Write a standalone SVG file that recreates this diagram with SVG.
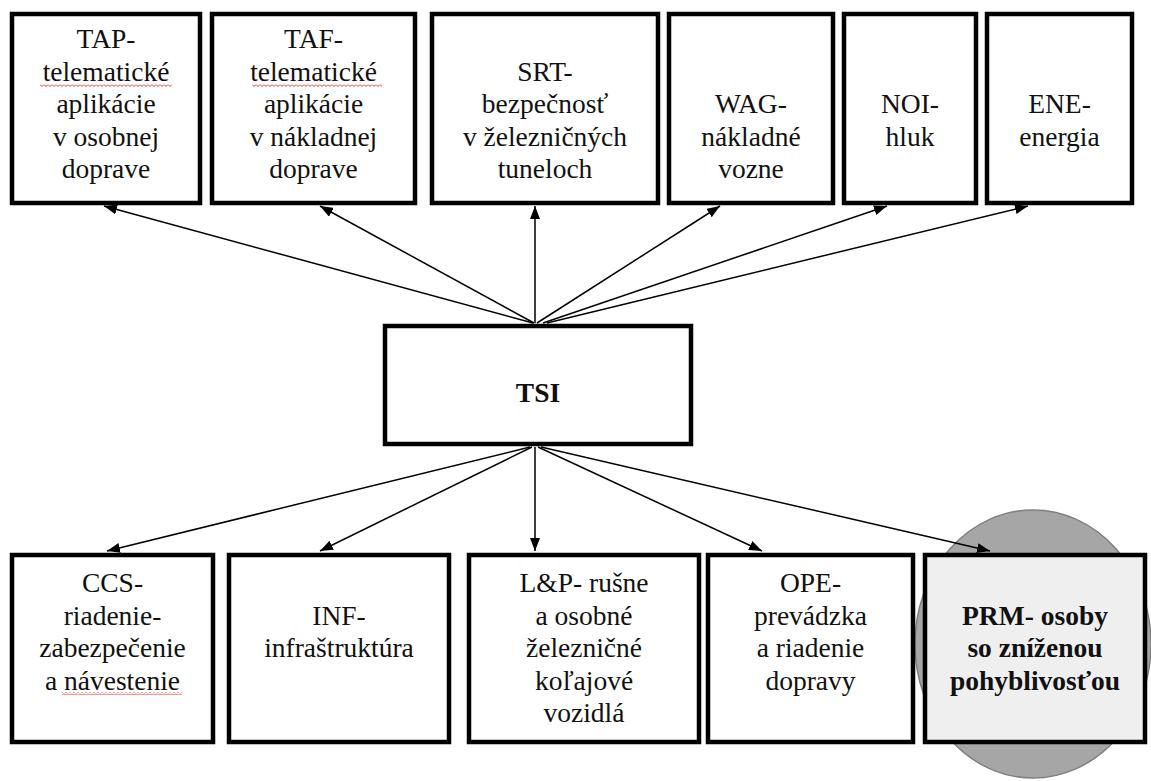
<svg xmlns="http://www.w3.org/2000/svg" width="1151" height="781" viewBox="0 0 1151 781">
<style>
.box{fill:#ffffff;stroke:#000000;stroke-width:4.5}
.prm{fill:#efefef;stroke:#000000;stroke-width:4.5}
.t{font-family:'Liberation Serif','DejaVu Serif',serif;font-size:27.5px;fill:#111111;text-anchor:middle}
.b{font-weight:bold}
.conn line{stroke:#000000;stroke-width:1.5;marker-end:url(#arr)}
.sq{fill:url(#wave)}
</style>
<defs>
<marker id="arr" markerUnits="userSpaceOnUse" markerWidth="14" markerHeight="10" refX="13" refY="5" orient="auto">
<path d="M0,0 L13,5 L0,10 z" fill="#000000"/>
</marker>
<pattern id="wave" x="0" y="0" width="4" height="3" patternUnits="userSpaceOnUse">
<path d="M0,0.5 L2,2.5 L4,0.5" fill="none" stroke="#e02020" stroke-width="0.9"/>
</pattern>
</defs>
<rect width="1151" height="781" fill="#ffffff"/>
<ellipse id="circle" cx="1033" cy="644" rx="118" ry="134" fill="#a6a6a6" stroke="#808080" stroke-width="1.5"/>
<g id="TAP">
<rect class="box" x="12" y="14" width="188" height="189"/>
<text class="t" font-family="Liberation Serif, serif" x="106"><tspan x="106" y="48">TAP-</tspan><tspan x="106" y="80.5">telematické</tspan><tspan x="106" y="113">aplikácie</tspan><tspan x="106" y="145.5">v osobnej</tspan><tspan x="106" y="178">doprave</tspan></text>
<rect class="sq" x="40" y="84" width="132" height="3"/>
</g>
<g id="TAF">
<rect class="box" x="212" y="14" width="203" height="189"/>
<text class="t" x="313.5"><tspan x="313.5" y="48">TAF-</tspan><tspan x="313.5" y="80.5">telematické</tspan><tspan x="313.5" y="113">aplikácie</tspan><tspan x="313.5" y="145.5">v nákladnej</tspan><tspan x="313.5" y="178">doprave</tspan></text>
<rect class="sq" x="252" y="84" width="130" height="3"/>
</g>
<g id="SRT">
<rect class="box" x="432" y="14" width="226" height="189"/>
<text class="t" x="545"><tspan x="545" y="80.5">SRT-</tspan><tspan x="545" y="113">bezpečnosť</tspan><tspan x="545" y="145.5">v železničných</tspan><tspan x="545" y="178">tuneloch</tspan></text>
</g>
<g id="WAG">
<rect class="box" x="669" y="14" width="164" height="189"/>
<text class="t" x="751"><tspan x="751" y="113">WAG-</tspan><tspan x="751" y="145.5">nákladné</tspan><tspan x="751" y="178">vozne</tspan></text>
</g>
<g id="NOI">
<rect class="box" x="844" y="14" width="132" height="189"/>
<text class="t" x="910"><tspan x="910" y="113">NOI-</tspan><tspan x="910" y="145.5">hluk</tspan></text>
</g>
<g id="ENE">
<rect class="box" x="987" y="14" width="145" height="189"/>
<text class="t" x="1059.5"><tspan x="1059.5" y="113">ENE-</tspan><tspan x="1059.5" y="145.5">energia</tspan></text>
</g>
<g id="TSI">
<rect class="box" x="385" y="326" width="306" height="118"/>
<text class="t b" x="538" y="402">TSI</text>
</g>
<g id="CCS">
<rect class="box" x="12" y="555" width="201" height="187"/>
<text class="t" x="112.5"><tspan x="112.5" y="592">CCS-</tspan><tspan x="112.5" y="624.5">riadenie-</tspan><tspan x="112.5" y="657">zabezpečenie</tspan><tspan x="112.5" y="689.5">a návestenie</tspan></text>
<rect class="sq" x="62" y="692" width="120" height="3"/>
</g>
<g id="INF">
<rect class="box" x="229" y="555" width="220" height="187"/>
<text class="t" x="339"><tspan x="339" y="624.5">INF-</tspan><tspan x="339" y="657">infraštruktúra</tspan></text>
</g>
<g id="LP">
<rect class="box" x="469" y="555" width="230" height="187"/>
<text class="t" x="584"><tspan x="584" y="592">L&amp;P- rušne</tspan><tspan x="584" y="624.5">a osobné</tspan><tspan x="584" y="657">železničné</tspan><tspan x="584" y="689.5">koľajové</tspan><tspan x="584" y="722">vozidlá</tspan></text>
</g>
<g id="OPE">
<rect class="box" x="708" y="555" width="205" height="187"/>
<text class="t" x="810.5"><tspan x="810.5" y="592">OPE-</tspan><tspan x="810.5" y="624.5">prevádzka</tspan><tspan x="810.5" y="657">a riadenie</tspan><tspan x="810.5" y="689.5">dopravy</tspan></text>
</g>
<g id="PRM">
<rect class="prm" x="925" y="555" width="220" height="187"/>
<text class="t b" x="1035"><tspan x="1035" y="624.5">PRM- osoby</tspan><tspan x="1035" y="657">so zníženou</tspan><tspan x="1035" y="689.5">pohyblivosťou</tspan></text>
</g>
<g id="connectors" class="conn">
<line x1="533" y1="323" x2="104" y2="206"/>
<line x1="534" y1="323" x2="320" y2="206"/>
<line x1="535" y1="323" x2="535" y2="206"/>
<line x1="537" y1="323" x2="720" y2="206"/>
<line x1="543" y1="323" x2="887" y2="206"/>
<line x1="547" y1="323" x2="1028" y2="206"/>
<line x1="530" y1="447" x2="107" y2="551"/>
<line x1="532" y1="447" x2="320" y2="551"/>
<line x1="535" y1="447" x2="535" y2="551"/>
<line x1="538" y1="447" x2="762" y2="551"/>
<line x1="541" y1="447" x2="990" y2="551"/>
</g>
</svg>
